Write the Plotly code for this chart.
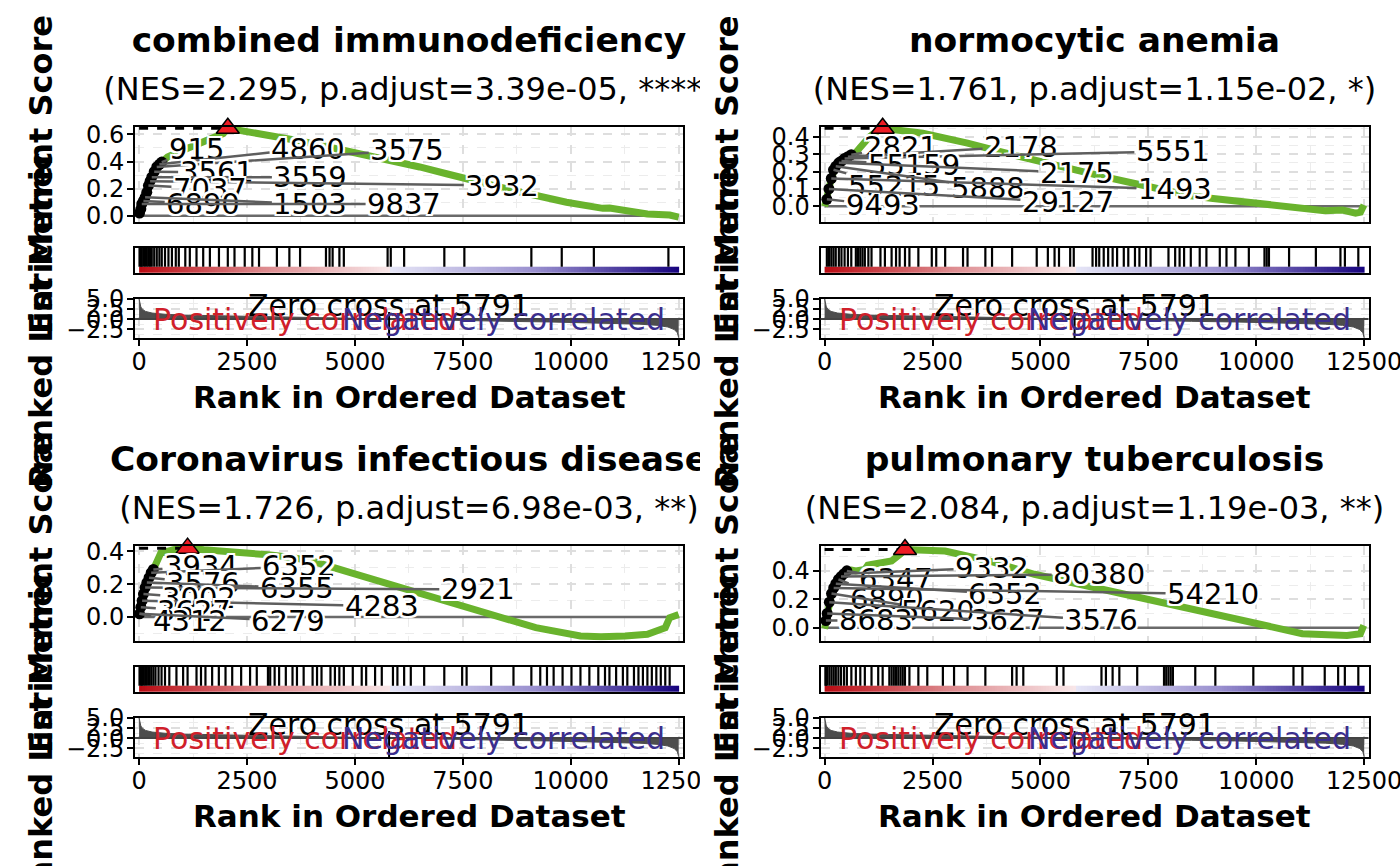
import numpy as np
import plotly.graph_objects as go

FONT = "DejaVu Sans"
W, H = 1400, 866

# ---------------- data ----------------
titles = ["combined immunodeficiency", "normocytic anemia",
          "Coronavirus infectious disease", "pulmonary tuberculosis"]
nes = [2.295, 1.761, 1.726, 2.084]
p_adjust = ["3.39e-05", "1.15e-02", "6.98e-03", "1.19e-03"]
signif = ["****", "*", "**", "**"]

# ranked list metric (shared)
metric_rank = [0, 15, 40, 80, 150, 300, 600, 1000, 1800, 2800, 4000, 5000, 5791,
               6500, 7500, 8500, 9500, 10300, 11000, 11600, 12000, 12250, 12400, 12470, 12500]
metric_val = [5.0, 3.9, 3.0, 2.4, 1.9, 1.5, 1.2, 1.0, 0.8, 0.6, 0.4, 0.2, 0.0,
              -0.2, -0.4, -0.55, -0.7, -0.85, -1.0, -1.25, -1.55, -1.95, -2.6, -3.4, -4.6]
zero_cross = 5791
x_ticks = [0, 2500, 5000, 7500, 10000, 12500]

# ---- panel 1: combined immunodeficiency ----
es_rank_1 = [0, 10, 40, 62, 100, 139, 178, 216, 255, 293, 350, 409, 470, 525, 658, 917, 1228,
             1640, 1950, 2055, 2570, 3000, 3500, 4019, 4500, 5000, 5571, 6000, 6500, 7121, 7600,
             8100, 8673, 9200, 9706, 9900, 10741, 10900, 11775, 12291, 12500]
es_val_1 = [0.0, 0.02, 0.05, 0.087, 0.11, 0.136, 0.173, 0.223, 0.255, 0.285, 0.325, 0.36, 0.38,
            0.396, 0.433, 0.47, 0.508, 0.558, 0.607, 0.645, 0.62, 0.60, 0.565, 0.533, 0.50, 0.47,
            0.434, 0.40, 0.36, 0.31, 0.27, 0.225, 0.186, 0.15, 0.115, 0.10, 0.055, 0.058, 0.013,
            0.006, -0.01]
lead_rank_1 = [10, 40, 62, 100, 139, 178, 216, 255, 293, 350, 409, 470, 525]
lead_es_1 = [0.02, 0.05, 0.087, 0.11, 0.136, 0.173, 0.223, 0.255, 0.285, 0.325, 0.36, 0.38, 0.396]
hits_1 = [10, 40, 62, 100, 139, 178, 216, 255, 293, 350, 409, 470, 525, 600, 680, 760, 850, 920,
          1070, 1175, 1330, 1485, 1640, 1850, 2055, 2210, 2447, 2623, 2778, 3192, 3481, 3729,
          4329, 4412, 4483, 4640, 4743, 5757, 5830, 6140, 7071, 7535, 9087, 9791, 10535, 12262]
genes_1 = ["915", "4860", "3575", "3561", "3559", "3932", "7037", "6890", "1503", "9837"]
gene_hit_1 = [525, 470, 409, 350, 293, 255, 216, 100, 139, 62]

# ---- panel 2: normocytic anemia ----
es_rank_2 = [0, 52, 100, 155, 206, 258, 330, 391, 463, 540, 618, 724, 827, 932, 1040, 1200, 1345,
             2275, 3311, 4344, 5379, 6414, 7448, 8483, 9000, 9517, 10000, 10552, 10800, 11300,
             11587, 12000, 12300, 12414, 12495]
es_val_2 = [0.0, 0.04, 0.10, 0.16, 0.21, 0.23, 0.25, 0.26, 0.275, 0.285, 0.297, 0.31, 0.34, 0.37,
            0.40, 0.43, 0.449, 0.42, 0.364, 0.297, 0.231, 0.174, 0.117, 0.06, 0.045, 0.032, 0.02,
            0.003, -0.005, -0.015, -0.025, -0.022, -0.04, -0.034, 0.007]
lead_rank_2 = [52, 100, 155, 206, 258, 330, 391, 463, 540, 618]
lead_es_2 = [0.04, 0.10, 0.16, 0.21, 0.23, 0.25, 0.26, 0.275, 0.285, 0.297]
hits_2 = [52, 100, 155, 206, 258, 330, 391, 463, 540, 618, 724, 776, 827, 879, 932, 1014, 1087,
          1294, 1397, 1552, 1655, 1738, 1862, 1965, 2172, 2483, 2586, 2793, 3207, 3311, 3724,
          3879, 4344, 4914, 5172, 5327, 5430, 5689, 5772, 6207, 6290, 6362, 6466, 6569, 6673,
          6776, 6931, 7035, 7190, 7293, 7448, 7552, 7966, 8121, 8224, 8328, 8483, 8690, 8845,
          9155, 9310, 9517, 9828, 10190, 10242, 10294, 10760, 11381, 11950, 12053, 12364]
genes_2 = ["2821", "2178", "5551", "55159", "2175", "55215", "5888", "1493", "9493", "29127"]
gene_hit_2 = [618, 540, 463, 391, 330, 206, 258, 155, 52, 100]

# ---- panel 3: Coronavirus infectious disease ----
es_rank_3 = [0, 10, 40, 70, 100, 140, 180, 230, 280, 330, 400, 503, 800, 1123, 1500, 1950, 2500,
             2986, 3500, 4019, 5052, 6087, 7121, 8156, 9190, 10224, 10700, 11258, 11775, 12189,
             12291, 12500]
es_val_3 = [0.0, 0.02, 0.06, 0.10, 0.14, 0.18, 0.21, 0.24, 0.27, 0.29, 0.33, 0.39, 0.41, 0.42,
            0.41, 0.404, 0.395, 0.38, 0.365, 0.34, 0.259, 0.178, 0.097, 0.016, -0.065, -0.115,
            -0.12, -0.115, -0.105, -0.065, -0.004, 0.016]
lead_rank_3 = [10, 40, 70, 100, 140, 180, 230, 280, 330]
lead_es_3 = [0.02, 0.06, 0.10, 0.14, 0.18, 0.21, 0.24, 0.27, 0.29]
hits_3 = [10, 40, 70, 100, 140, 180, 230, 280, 330, 380, 450, 520, 600, 700, 865, 1020, 1123,
          1330, 1434, 1537, 1692, 1847, 2002, 2157, 2364, 2571, 2726, 2985, 3037, 3140, 3244,
          3399, 3554, 3657, 3812, 4019, 4122, 4226, 4433, 4536, 4639, 4743, 4950, 5157, 5260,
          5467, 5622, 5881, 5984, 6140, 6294, 6604, 7070, 7484, 7587, 8156, 8673, 9087, 9293,
          9449, 9603, 9810, 10016, 10224, 10431, 10638, 10793, 10896, 11051, 11207, 11310,
          11464, 11568, 11671, 11775, 11878, 11982, 12085, 12189, 12291]
genes_3 = ["3934", "6352", "3576", "6355", "2921", "3002", "4283", "3627", "4312", "6279"]
gene_hit_3 = [330, 280, 230, 180, 140, 100, 70, 40, 10, 10]

# ---- panel 4: pulmonary tuberculosis ----
es_rank_4 = [0, 30, 60, 110, 160, 210, 260, 320, 380, 450, 516, 620, 724, 932, 1000, 1087, 1345,
             1552, 1759, 1863, 2792, 3828, 4861, 5897, 6931, 7965, 8999, 10033, 11068, 12102,
             12412, 12490]
es_val_4 = [-0.007, 0.05, 0.10, 0.18, 0.24, 0.28, 0.31, 0.34, 0.36, 0.38, 0.40, 0.405, 0.40,
            0.41, 0.44, 0.445, 0.46, 0.47, 0.52, 0.55, 0.539, 0.469, 0.376, 0.307, 0.237, 0.167,
            0.098, 0.028, -0.042, -0.054, -0.042, 0.016]
lead_rank_4 = [30, 60, 110, 160, 210, 260, 320, 380, 450, 516]
lead_es_4 = [0.05, 0.10, 0.18, 0.24, 0.28, 0.31, 0.34, 0.36, 0.38, 0.40]
hits_4 = [20, 30, 60, 110, 160, 210, 260, 320, 380, 450, 516, 620, 724, 827, 932, 1087, 1242,
          1345, 1500, 1552, 1603, 1655, 1707, 1759, 1810, 1862, 1965, 2172, 2379, 2740, 2999,
          3311, 3724, 4344, 4448, 4603, 5379, 5534, 6414, 6517, 6672, 6828, 7242, 7863, 7914,
          7966, 8018, 8069, 8587, 9052, 9932, 10862, 11069, 11586, 11897, 12052, 12364]
genes_4 = ["6347", "9332", "80380", "6890", "6352", "54210", "5620", "8683", "3627", "3576"]
gene_hit_4 = [516, 450, 380, 320, 260, 210, 160, 30, 60, 110]

# ---------------- layout / styling (positions of repelled labels) ----------------
label_pos = [
    [(1330, 0.496), (3915, 0.496), (6211, 0.483), (1796, 0.322), (3968, 0.285),
     (8413, 0.223), (1641, 0.198), (1485, 0.087), (3968, 0.087), (6139, 0.087)],
    [(1759, 0.344), (4551, 0.344), (8068, 0.316), (2069, 0.24), (5843, 0.193),
     (1603, 0.114), (3777, 0.108), (8118, 0.098), (1345, 0.007), (5637, 0.023)],
    [(1434, 0.309), (3709, 0.309), (1485, 0.208), (3657, 0.178), (7846, 0.168),
     (1382, 0.117), (5622, 0.067), (1279, 0.036), (1175, -0.024), (3451, -0.024)],
    [(1654, 0.341), (3879, 0.422), (6360, 0.376), (1448, 0.202), (4189, 0.237),
     (8999, 0.237), (2637, 0.121), (1189, 0.051), (4240, 0.051), (6413, 0.051)],
]
es_yrange = [[-0.042, 0.657], [-0.0875, 0.458], [-0.143, 0.435], [-0.09, 0.577]]
es_dtick = [0.2, 0.1, 0.2, 0.2]
MET_RANGE = [-4.75, 5.1]
XR = [-95, 12600]

GREEN = "#69B32D"
RED_TXT = "#D0202A"
BLUE_TXT = "#3B2E8E"
HALO = ("2px 2px 0 white, -2px -2px 0 white, 2px -2px 0 white, -2px 2px 0 white, "
        "0 2px 0 white, 0 -2px 0 white, 2px 0 0 white, -2px 0 0 white")

panels = [
    dict(es_rank=es_rank_1, es_val=es_val_1, lead_rank=lead_rank_1, lead_es=lead_es_1,
         hits=hits_1, genes=genes_1, gene_hit=gene_hit_1),
    dict(es_rank=es_rank_2, es_val=es_val_2, lead_rank=lead_rank_2, lead_es=lead_es_2,
         hits=hits_2, genes=genes_2, gene_hit=gene_hit_2),
    dict(es_rank=es_rank_3, es_val=es_val_3, lead_rank=lead_rank_3, lead_es=lead_es_3,
         hits=hits_3, genes=genes_3, gene_hit=gene_hit_3),
    dict(es_rank=es_rank_4, es_val=es_val_4, lead_rank=lead_rank_4, lead_es=lead_es_4,
         hits=hits_4, genes=genes_4, gene_hit=gene_hit_4),
]

QX = [0, 685.5, 0, 685.5]
QY = [0, 0, 419, 419]
PX0, PX1 = 135, 683
ROWS = {"es": (126.7, 221.5), "rug": (247.5, 273.3), "met": (298.5, 338.3)}


def xdom(q):
    return [(PX0 + QX[q]) / W, (PX1 + QX[q]) / W]


def ydom(q, key):
    y0, y1 = ROWS[key]
    return [1 - (y1 + QY[q]) / H, 1 - (y0 + QY[q]) / H]


def sfx(n):
    return "" if n == 1 else str(n)


TICKFONT = dict(size=24, family=FONT, color="black")
GRID = dict(showgrid=True, gridcolor="#DEDEDE", griddash="dash", gridwidth=1.5)


def minor(d):
    return dict(showgrid=True, dtick=d, tick0=0, gridcolor="#ECECEC", griddash="dash", gridwidth=1.2)


FRAME = dict(showline=True, linecolor="black", linewidth=2, mirror=True, zeroline=False,
             automargin=False)

fig = go.Figure()
layout = dict(width=W, height=H, margin=dict(l=0, r=0, t=0, b=0, pad=0, autoexpand=False),
              autosize=False, paper_bgcolor="white", plot_bgcolor="white", showlegend=False,
              hovermode=False, font=dict(family=FONT, color="black"))
shapes, annotations = [], []

for q, p in enumerate(panels):
    n_es, n_rug, n_met = 3 * q + 1, 3 * q + 2, 3 * q + 3
    xa_es, ya_es = "x" + sfx(n_es), "y" + sfx(n_es)
    xa_rug, ya_rug = "x" + sfx(n_rug), "y" + sfx(n_rug)
    xa_met, ya_met = "x" + sfx(n_met), "y" + sfx(n_met)

    # ---- axes ----
    layout["xaxis" + sfx(n_es)] = dict(domain=xdom(q), anchor=ya_es, range=XR, **FRAME, **GRID,
                                       tickmode="linear", tick0=0, dtick=2500, ticks="",
                                       showticklabels=False, minor=minor(1250))
    layout["yaxis" + sfx(n_es)] = dict(domain=ydom(q, "es"), anchor=xa_es, range=es_yrange[q],
                                       **FRAME, **GRID, tickmode="linear", tick0=0,
                                       dtick=es_dtick[q], tickformat=".1f", ticks="outside",
                                       ticklen=6, tickwidth=2, tickcolor="black",
                                       ticklabelstandoff=-2,
                                       tickfont=TICKFONT, minor=minor(es_dtick[q] / 2))
    layout["xaxis" + sfx(n_rug)] = dict(domain=xdom(q), anchor=ya_rug, range=XR, **FRAME,
                                        showgrid=False, ticks="", showticklabels=False)
    layout["yaxis" + sfx(n_rug)] = dict(domain=ydom(q, "rug"), anchor=xa_rug, range=[0, 1], **FRAME,
                                        showgrid=False, ticks="", showticklabels=False)
    layout["xaxis" + sfx(n_met)] = dict(domain=xdom(q), anchor=ya_met, range=XR, **FRAME, **GRID,
                                        tickmode="array", tickvals=x_ticks,
                                        ticktext=[str(v) for v in x_ticks],
                                        ticks="outside", ticklen=6, tickwidth=2, tickcolor="black",
                                        ticklabelstandoff=-5,
                                        tickfont=TICKFONT, minor=minor(1250),
                                        ticklabeloverflow="allow")
    layout["yaxis" + sfx(n_met)] = dict(domain=ydom(q, "met"), anchor=xa_met, range=MET_RANGE,
                                        **FRAME, **GRID, tickmode="linear", tick0=0, dtick=2.5,
                                        tickformat=".1f", ticks="outside", ticklen=6, tickwidth=2,
                                        tickcolor="black", ticklabelstandoff=-2,
                                        tickfont=TICKFONT, minor=minor(1.25))

    # ---- running ES panel ----
    fig.add_trace(go.Scatter(x=[p["es_rank"][0], p["es_rank"][-1]], y=[0, 0], mode="lines",
                             line=dict(color="#6A6A6A", width=2.5), xaxis=xa_es, yaxis=ya_es))
    fig.add_trace(go.Scatter(x=p["es_rank"], y=p["es_val"], mode="lines",
                             line=dict(color=GREEN, width=7), xaxis=xa_es, yaxis=ya_es))
    ipk = int(np.argmax(p["es_val"]))
    pk_rank, pk_es = p["es_rank"][ipk], p["es_val"][ipk]
    fig.add_trace(go.Scatter(x=[p["es_rank"][0], pk_rank], y=[pk_es, pk_es], mode="lines",
                             line=dict(color="black", width=3, dash="dash"),
                             xaxis=xa_es, yaxis=ya_es))
    fig.add_trace(go.Scatter(x=p["lead_rank"], y=p["lead_es"], mode="lines+markers",
                             line=dict(color="black", width=5),
                             marker=dict(color="black", size=11), xaxis=xa_es, yaxis=ya_es))
    fig.add_trace(go.Scatter(x=[pk_rank], y=[pk_es], mode="markers", cliponaxis=False,
                             marker=dict(symbol="triangle-up", size=20, color="#EE1C24",
                                         line=dict(color="black", width=1.5)),
                             xaxis=xa_es, yaxis=ya_es))
    lead_lookup = dict(zip(p["lead_rank"], p["lead_es"]))
    for g, hr, (lx, ly) in zip(p["genes"], p["gene_hit"], label_pos[q]):
        annotations.append(dict(x=hr, y=lead_lookup[hr], xref=xa_es, yref=ya_es,
                                ax=lx, ay=ly, axref=xa_es, ayref=ya_es, text=g,
                                showarrow=True, arrowhead=0, arrowwidth=2.5,
                                arrowcolor="#5E5E5E", standoff=0, startstandoff=0,
                                xanchor="center", yanchor="middle",
                                font=dict(size=29, family=FONT, color="black", shadow=HALO)))

    # ---- rug panel ----
    hx, hy = [], []
    for h in p["hits"]:
        hx += [h, h, None]
        hy += [0.255, 1, None]
    fig.add_trace(go.Scatter(x=hx, y=hy, mode="lines", line=dict(color="black", width=2.2),
                             xaxis=xa_rug, yaxis=ya_rug))
    ncell = 200
    cell = 12500 / ncell
    centers = np.arange(ncell) * cell + cell / 2
    wp = zero_cross / 12500
    fig.add_trace(go.Heatmap(z=[centers], x0=cell / 2, dx=cell, y0=0.14, dy=0.23,
                             zmin=0, zmax=12500, showscale=False,
                             colorscale=[[0, "#BA0A12"], [wp * 0.5, "#DD8A8E"],
                                         [wp, "#F8E6E8"], [wp + 0.0001, "#E6E6F7"],
                                         [wp + (1 - wp) * 0.5, "#9A90CF"], [1, "#17037E"]],
                             xaxis=xa_rug, yaxis=ya_rug, hoverinfo="skip"))

    # ---- ranked metric panel ----
    fig.add_trace(go.Scatter(x=metric_rank, y=metric_val, mode="lines", fill="tozeroy",
                             fillcolor="#4D4D4D", line=dict(color="#4D4D4D", width=1),
                             xaxis=xa_met, yaxis=ya_met))
    shapes.append(dict(type="line", xref=xa_met + " domain", x0=0, x1=1, yref=ya_met, y0=0, y1=0,
                       line=dict(color="#444444", width=2), layer="above"))
    shapes.append(dict(type="line", xref=xa_met, x0=zero_cross, x1=zero_cross,
                       yref=ya_met + " domain", y0=0, y1=0.66,
                       line=dict(color="black", width=2), layer="above"))
    annotations.append(dict(x=zero_cross, y=3.4, xref=xa_met, yref=ya_met, showarrow=False,
                            text=f"Zero cross at {zero_cross}", xanchor="center", yanchor="middle",
                            font=dict(size=30, family=FONT, color="black")))
    annotations.append(dict(x=278, y=0, xref=xa_met, yref=ya_met, showarrow=False,
                            text="Positively correlated", xanchor="left", yanchor="middle",
                            font=dict(size=30, family=FONT, color=RED_TXT)))
    annotations.append(dict(x=12231, y=0, xref=xa_met, yref=ya_met, showarrow=False,
                            text="Negatively correlated", xanchor="right", yanchor="middle",
                            font=dict(size=30, family=FONT, color=BLUE_TXT)))

    # ---- axis titles ----
    annotations.append(dict(xref="paper", x=(41 + QX[q]) / W, yref="paper",
                            y=1 - (175 + QY[q]) / H,
                            text="Enrichment Score", textangle=-90, showarrow=False,
                            xanchor="center", yanchor="middle",
                            font=dict(size=32, family=FONT, color="black", weight="bold")))
    annotations.append(dict(xref="paper", x=(41 + QX[q]) / W, yref="paper",
                            y=1 - (320 + QY[q]) / H,
                            text="Ranked List Metric", textangle=-90, showarrow=False,
                            xanchor="center", yanchor="middle",
                            font=dict(size=32, family=FONT, color="black", weight="bold")))
    annotations.append(dict(xref="paper", x=((PX0 + PX1) / 2 + QX[q]) / W,
                            yref="paper", y=1 - (397 + QY[q]) / H,
                            text="Rank in Ordered Dataset", showarrow=False,
                            xanchor="center", yanchor="middle",
                            font=dict(size=31, family=FONT, color="black", weight="bold")))

    # ---- title + subtitle in a clipped canvas (clipped at the quadrant edge) ----
    nc = 13 + q
    left = 0 if q in (0, 2) else 700
    layout["xaxis" + sfx(nc)] = dict(domain=[left / W, (left + 700) / W], range=[0, 700],
                                     visible=False, anchor="y" + sfx(nc), fixedrange=True,
                                     automargin=False)
    layout["yaxis" + sfx(nc)] = dict(domain=[1 - (120 + QY[q]) / H, 1 - QY[q] / H],
                                     range=[120, 0], visible=False, anchor="x" + sfx(nc),
                                     fixedrange=True, automargin=False)
    cx = (PX0 + PX1) / 2 + QX[q] - left
    fig.add_trace(go.Scatter(x=[cx], y=[43], mode="text", text=[titles[q]], cliponaxis=True,
                             textposition="middle center",
                             textfont=dict(size=34.5, family=FONT, color="black", weight="bold"),
                             xaxis="x" + sfx(nc), yaxis="y" + sfx(nc), hoverinfo="skip"))
    sub = f"(NES={nes[q]:.3f}, p.adjust={p_adjust[q]}, {signif[q]})"
    fig.add_trace(go.Scatter(x=[cx], y=[92], mode="text", text=[sub], cliponaxis=True,
                             textposition="middle center",
                             textfont=dict(size=32, family=FONT, color="black"),
                             xaxis="x" + sfx(nc), yaxis="y" + sfx(nc), hoverinfo="skip"))

    # hide x tick-label overflow across the quadrant edge (left quadrants)
    if q in (0, 2):
        shapes.append(dict(type="rect", xref="paper", yref="paper",
                           x0=700 / W, x1=812 / W,
                           y0=1 - (382 + QY[q]) / H, y1=1 - (342 + QY[q]) / H,
                           fillcolor="white", line=dict(width=0), layer="above"))

layout["shapes"] = shapes
layout["annotations"] = annotations
fig.update_layout(**layout)

fig.write_html("out.html",
               config={"responsive": False, "displayModeBar": False},
               post_script="document.body.style.margin='0';document.body.style.overflow='hidden';")
